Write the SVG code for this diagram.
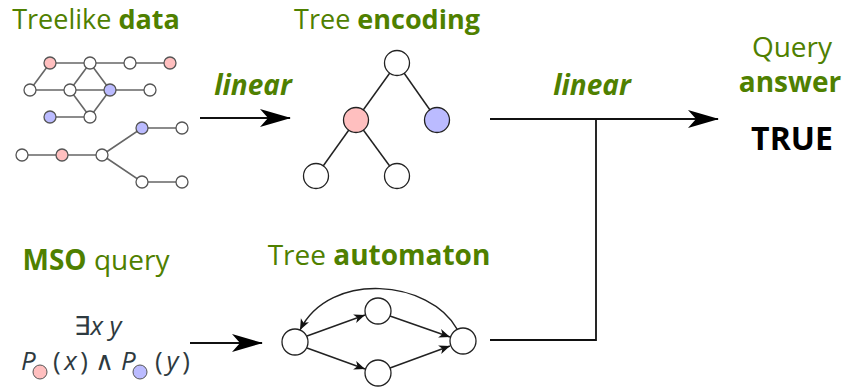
<svg xmlns="http://www.w3.org/2000/svg" width="844" height="388" viewBox="0 0 844 388">
<style>
.title{font-family:"Open Sans","Noto Sans",sans-serif;font-size:28px;fill:#4f8000;text-anchor:middle}
.top{font-size:27px}
.b{font-weight:bold}
.lin{font-family:"Open Sans","Noto Sans",sans-serif;font-size:28px;fill:#4f8000;font-weight:bold;font-style:italic;text-anchor:middle}
.true{font-family:"Open Sans","Noto Sans",sans-serif;font-size:32px;fill:#000;font-weight:bold;text-anchor:middle}
.f{font-family:"Open Sans","Noto Sans",sans-serif;font-size:26px;fill:#2e3a40}
.i{font-style:italic}
.d{stroke:#555;stroke-width:1.3}
.de{stroke:#666;stroke-width:1.6;fill:none}
.w{fill:#fff}
.p{fill:#ffbfbf}
.q{fill:#bbbbff}
.t{stroke:#222;stroke-width:1.3}
.te{stroke:#222;stroke-width:1.5;fill:none}
.main{stroke:#111;stroke-width:1.8;fill:none}
.ae{stroke:#222;stroke-width:1.5;fill:none}
</style>
<defs>
<marker id="big" markerUnits="userSpaceOnUse" markerWidth="34" markerHeight="20" refX="30" refY="10" orient="auto" viewBox="0 0 34 20">
<path d="M31,10 L0,1 L8,10 L0,19 Z" fill="#000"/>
</marker>
<marker id="sm" markerUnits="userSpaceOnUse" markerWidth="14" markerHeight="10" refX="11" refY="5" orient="auto" viewBox="0 0 14 10">
<path d="M11,5 L0,0.5 L3,5 L0,9.5 Z" fill="#111"/>
</marker>
</defs>

<g id="connectors">
<line class="main" x1="200" y1="118" x2="290" y2="118" marker-end="url(#big)"/>
<line class="main" x1="490" y1="119" x2="718" y2="119" marker-end="url(#big)"/>
<polyline class="main" points="490,340 596,340 596,119"/>
<line class="main" x1="190" y1="343" x2="262" y2="343" marker-end="url(#big)"/>
</g>

<g id="treelike-data">
<text class="title top" x="96" y="29">Treelike <tspan class="b">data</tspan></text>
<g class="de">
<polyline points="50,63 170,63"/>
<polyline points="30,90 150,90"/>
<line x1="50" y1="63" x2="30" y2="90"/>
<line x1="90" y1="63" x2="70" y2="90"/>
<line x1="90" y1="63" x2="110" y2="90"/>
<line x1="70" y1="90" x2="90" y2="117"/>
<line x1="110" y1="90" x2="90" y2="117"/>
<line x1="50" y1="117" x2="90" y2="117"/>
<line x1="22" y1="155" x2="102" y2="155"/>
<polyline points="102,155 142,128 182,128"/>
<polyline points="102,155 142,182 182,182"/>
</g>
<g class="d">
<circle class="p" cx="50" cy="63" r="6"/>
<circle class="w" cx="90" cy="63" r="6"/>
<circle class="w" cx="130" cy="63" r="6"/>
<circle class="p" cx="170" cy="63" r="6"/>
<circle class="w" cx="30" cy="90" r="6"/>
<circle class="w" cx="70" cy="90" r="6"/>
<circle class="q" cx="110" cy="90" r="6"/>
<circle class="w" cx="150" cy="90" r="6"/>
<circle class="q" cx="50" cy="117" r="6"/>
<circle class="w" cx="90" cy="117" r="6"/>
<circle class="w" cx="22" cy="155" r="6"/>
<circle class="p" cx="62" cy="155" r="6"/>
<circle class="w" cx="102" cy="155" r="6"/>
<circle class="q" cx="142" cy="128" r="6"/>
<circle class="w" cx="182" cy="128" r="6"/>
<circle class="w" cx="142" cy="182" r="6"/>
<circle class="w" cx="182" cy="182" r="6"/>
</g>
</g>

<g id="label-linear-1"><text class="lin" x="253" y="95">linear</text></g>
<g id="label-linear-2"><text class="lin" x="592" y="95">linear</text></g>

<g id="tree-encoding">
<text class="title top" x="387" y="29">Tree <tspan class="b">encoding</tspan></text>
<g class="te">
<line x1="397" y1="63" x2="356" y2="120"/>
<line x1="397" y1="63" x2="437" y2="120"/>
<line x1="356" y1="120" x2="316" y2="176"/>
<line x1="356" y1="120" x2="397" y2="176"/>
</g>
<g class="t">
<circle class="w" cx="397" cy="63" r="12.5"/>
<circle class="p" cx="356" cy="120" r="12.5"/>
<circle class="q" cx="437" cy="120" r="12.5"/>
<circle class="w" cx="316" cy="176" r="12.5"/>
<circle class="w" cx="397" cy="176" r="12.5"/>
</g>
</g>

<g id="query-answer">
<text class="title" x="792" y="57">Query</text>
<text class="title b" x="790" y="92">answer</text>
<text class="true" x="792" y="150">TRUE</text>
</g>

<g id="mso-query">
<text class="title" x="96" y="270"><tspan class="b">MSO</tspan> query</text>
<text class="f" x="98" y="335" text-anchor="middle">∃<tspan class="i">x y</tspan></text>
<text class="f i" x="21" y="370">P</text>
<circle cx="40" cy="372" r="7" fill="#ffbfbf" stroke="#555" stroke-width="1"/>
<text class="f" x="53" y="370" textLength="35">(<tspan class="i">x</tspan>)</text>
<text class="f" x="104" y="370" text-anchor="middle">∧</text>
<text class="f i" x="121" y="370">P</text>
<circle cx="140" cy="372" r="7" fill="#bbbbff" stroke="#555" stroke-width="1"/>
<text class="f" x="155" y="370" textLength="35">(<tspan class="i">y</tspan>)</text>
</g>

<g id="tree-automaton">
<text class="title" x="379" y="265">Tree <tspan class="b">automaton</tspan></text>
<g class="ae">
<line x1="307" y1="336" x2="365" y2="315" marker-end="url(#sm)"/>
<line x1="307" y1="348" x2="365" y2="369" marker-end="url(#sm)"/>
<line x1="390" y1="316" x2="450" y2="337" marker-end="url(#sm)"/>
<line x1="390" y1="368" x2="450" y2="346" marker-end="url(#sm)"/>
<path d="M457,329 C430,280 330,270 300,330" marker-end="url(#sm)"/>
</g>
<g class="t">
<circle class="w" cx="295" cy="342" r="13"/>
<circle class="w" cx="378" cy="311" r="13"/>
<circle class="w" cx="378" cy="373" r="13"/>
<circle class="w" cx="463" cy="341" r="13"/>
</g>
</g>
</svg>
